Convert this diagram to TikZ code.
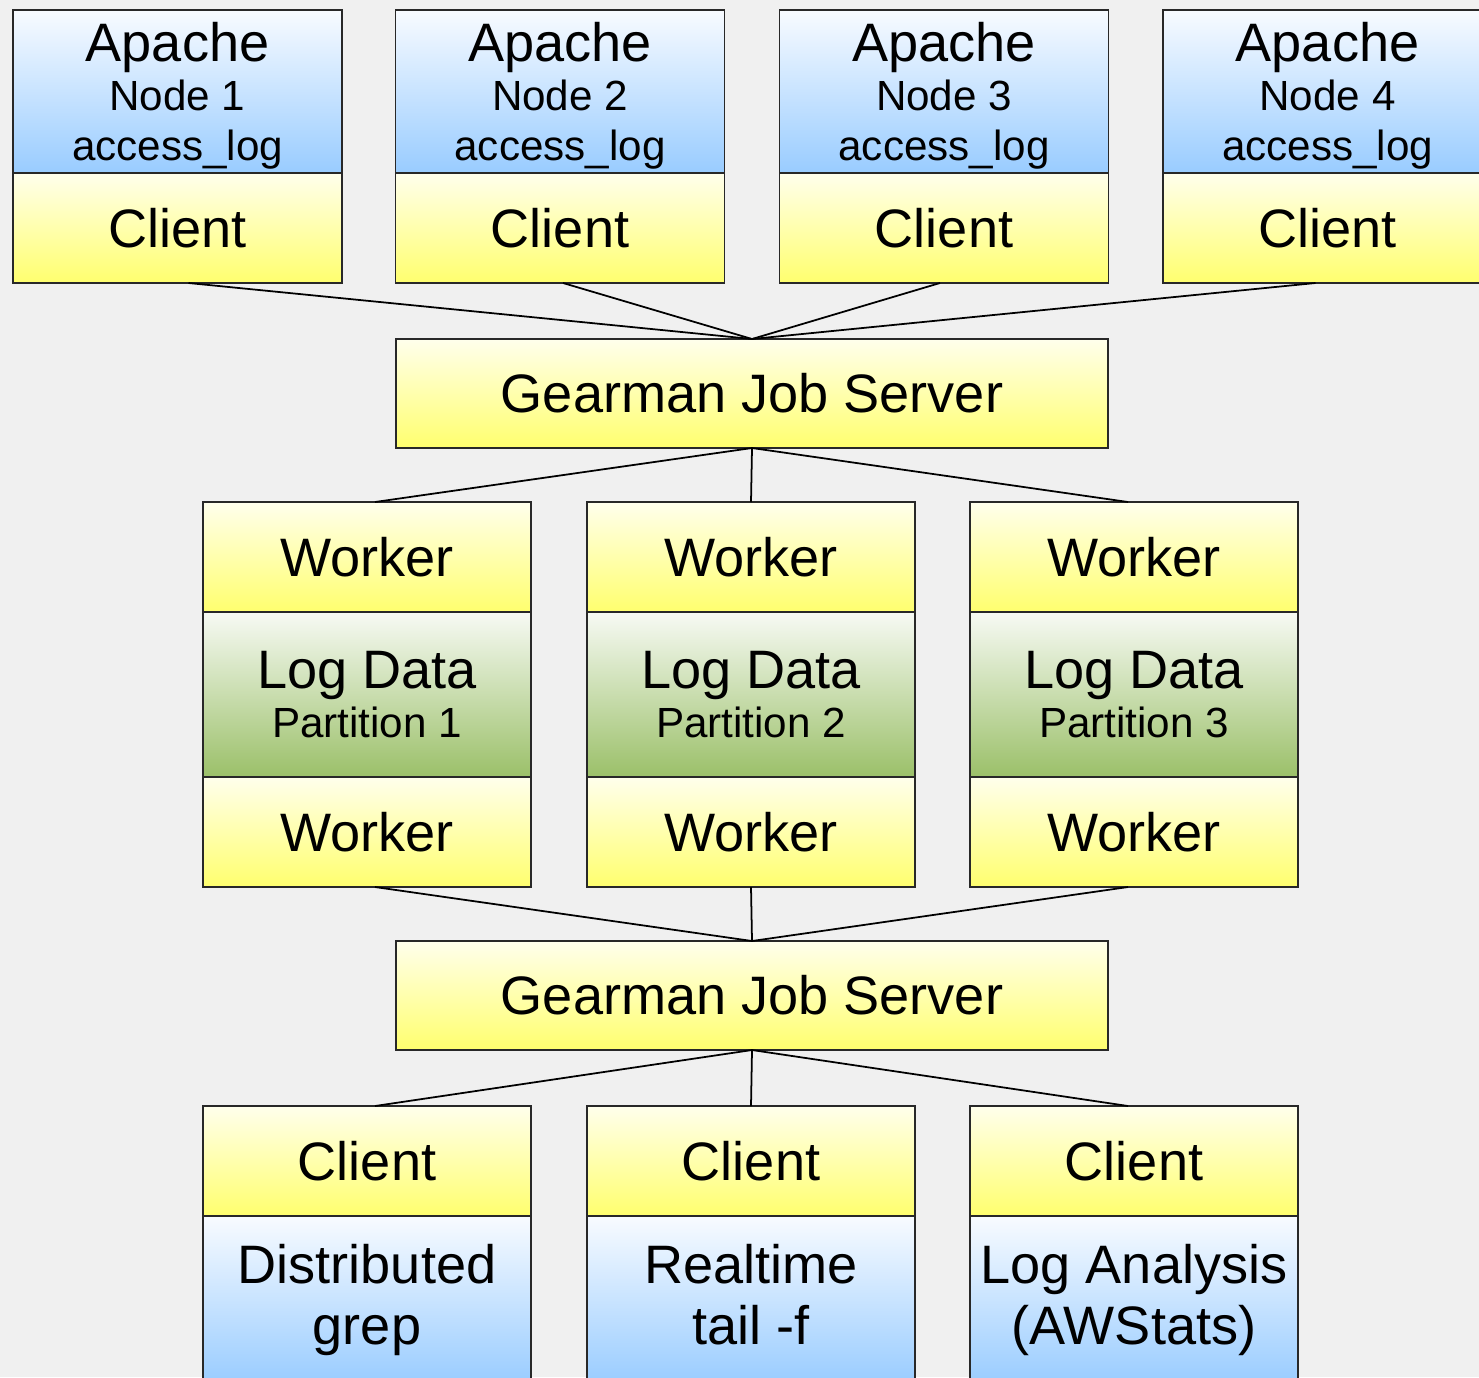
\documentclass[tikz,border=0pt]{standalone}
\usepackage{fontspec}
\setmainfont{Liberation Sans}
\usetikzlibrary{positioning}

\definecolor{bg}{RGB}{240,240,240}
\definecolor{bluetop}{RGB}{248,251,255}
\definecolor{bluebot}{RGB}{153,204,255}
\definecolor{yeltop}{RGB}{255,255,236}
\definecolor{yelbot}{RGB}{255,255,110}
\definecolor{grntop}{RGB}{247,250,244}
\definecolor{grnbot}{RGB}{155,192,105}
\definecolor{edge}{RGB}{40,40,40}

\newcommand{\subtext}[1]{{\fontsize{12}{14}\selectfont #1}}
\newcommand{\toptext}[1]{\rule{0pt}{0.475cm}#1}

\begin{document}
\begin{tikzpicture}[
  box/.style={draw=edge, line width=0.45pt, rectangle, inner sep=0pt, outer sep=0pt,
    minimum width=3.29cm, align=center, font=\fontsize{15.4}{14}\selectfont},
  bluebox/.style={box, top color=bluetop, bottom color=bluebot, minimum height=1.63cm},
  yelbox/.style={box, top color=yeltop, bottom color=yelbot, minimum height=1.10cm},
  grnbox/.style={box, top color=grntop, bottom color=grnbot, minimum height=1.65cm},
  toolbox/.style={box, top color=bluetop, bottom color=bluebot, minimum height=1.68cm,
    font=\fontsize{15.4}{17.6}\selectfont},
  serverbox/.style={yelbox, minimum width=7.12cm, minimum height=1.09cm},
  link/.style={black, line width=0.5pt}
]
\useasboundingbox (0,0) rectangle (14.79,-13.77);
\clip (0,0) rectangle (14.79,-13.77);
\fill[bg] (0,0) rectangle (14.79,-13.77);

% apache nodes
\node[bluebox] (apache1) at (1.775,-0.915) {\toptext{Apache}\\\subtext{Node 1}\\\subtext{access\_log}};
\node[bluebox] (apache2) at (5.60,-0.915) {\toptext{Apache}\\\subtext{Node 2}\\\subtext{access\_log}};
\node[bluebox] (apache3) at (9.44,-0.915) {\toptext{Apache}\\\subtext{Node 3}\\\subtext{access\_log}};
\node[bluebox] (apache4) at (13.275,-0.915) {\toptext{Apache}\\\subtext{Node 4}\\\subtext{access\_log}};
\node[yelbox, below=0pt of apache1] (client1) {Client};
\node[yelbox, below=0pt of apache2] (client2) {Client};
\node[yelbox, below=0pt of apache3] (client3) {Client};
\node[yelbox, below=0pt of apache4] (client4) {Client};

\node[serverbox] (server1) at (7.52,-3.935) {Gearman Job Server};

% workers
\node[yelbox, minimum width=3.28cm] (workerA1) at (3.67,-5.57) {Worker};
\node[yelbox, minimum width=3.28cm] (workerA2) at (7.51,-5.57) {Worker};
\node[yelbox, minimum width=3.28cm] (workerA3) at (11.34,-5.57) {Worker};
\node[grnbox, minimum width=3.28cm, below=0pt of workerA1] (logdata1) {Log Data\\\subtext{Partition 1}};
\node[grnbox, minimum width=3.28cm, below=0pt of workerA2] (logdata2) {Log Data\\\subtext{Partition 2}};
\node[grnbox, minimum width=3.28cm, below=0pt of workerA3] (logdata3) {Log Data\\\subtext{Partition 3}};
\node[yelbox, minimum width=3.28cm, below=0pt of logdata1] (workerB1) {Worker};
\node[yelbox, minimum width=3.28cm, below=0pt of logdata2] (workerB2) {Worker};
\node[yelbox, minimum width=3.28cm, below=0pt of logdata3] (workerB3) {Worker};

\node[serverbox] (server2) at (7.52,-9.955) {Gearman Job Server};

% consumers
\node[yelbox, minimum width=3.28cm] (user1) at (3.67,-11.61) {Client};
\node[yelbox, minimum width=3.28cm] (user2) at (7.51,-11.61) {Client};
\node[yelbox, minimum width=3.28cm] (user3) at (11.34,-11.61) {Client};
\node[toolbox, minimum width=3.28cm, below=0pt of user1] (tool1) {Distributed\\grep};
\node[toolbox, minimum width=3.28cm, below=0pt of user2] (tool2) {Realtime\\tail -f\vphantom{g}};
\node[toolbox, minimum width=3.28cm, below=0pt of user3] (tool3) {Log Analysis\\(AWStats)};

\draw[link] ([xshift=0.11cm]client1.south) -- (server1.north);
\draw[link] ([xshift=0.03cm]client2.south) -- (server1.north);
\draw[link] ([xshift=-0.04cm]client3.south) -- (server1.north);
\draw[link] ([xshift=-0.12cm]client4.south) -- (server1.north);

\draw[link] (server1.south) -- ([xshift=0.08cm]workerA1.north);
\draw[link] (server1.south) -- (workerA2.north);
\draw[link] (server1.south) -- ([xshift=-0.06cm]workerA3.north);

\draw[link] ([xshift=0.08cm]workerB1.south) -- (server2.north);
\draw[link] (workerB2.south) -- (server2.north);
\draw[link] ([xshift=-0.06cm]workerB3.south) -- (server2.north);

\draw[link] (server2.south) -- ([xshift=0.08cm]user1.north);
\draw[link] (server2.south) -- (user2.north);
\draw[link] (server2.south) -- ([xshift=-0.06cm]user3.north);

\end{tikzpicture}
\end{document}
